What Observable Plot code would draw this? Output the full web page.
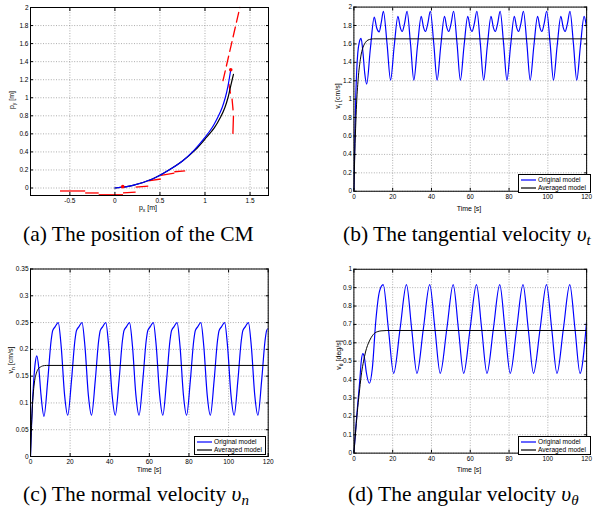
<!DOCTYPE html>
<html><head><meta charset="utf-8">
<script src="https://cdn.jsdelivr.net/npm/d3@7"></script>
<script src="https://cdn.jsdelivr.net/npm/@observablehq/plot@0.6"></script>
<style>
body{margin:0;width:595px;height:517px;overflow:hidden;background:#fff;position:relative;font-family:"Liberation Sans",Arial,sans-serif}
.panel{position:absolute}
.cap{position:absolute;font-family:"Liberation Serif","Times New Roman",serif;font-size:21.5px;line-height:22px;white-space:nowrap}
.cap sub{font-size:15px;vertical-align:-4px;line-height:0}
.lab{position:absolute;font-size:7px;line-height:7px;white-space:nowrap;transform:translate(-50%,-50%)}
.lab sub{font-size:5px;vertical-align:-2px;line-height:0}
.ylab{transform:translate(-50%,-50%) rotate(-90deg)}
.leg{position:absolute;border:1px solid #000;background:#fff;font-size:6.6px;line-height:8px;box-sizing:border-box;padding:1px 0 0 2px}
.leg div{display:flex;align-items:center;white-space:nowrap}
.leg svg{margin-right:2px}
</style>
</head><body>
<div id="pa" class="panel" style="left:0;top:0"></div>
<div id="pb" class="panel" style="left:300px;top:0"></div>
<div id="pc" class="panel" style="left:0;top:255px"></div>
<div id="pd" class="panel" style="left:300px;top:255px"></div>

<div class="lab" style="left:148px;top:207px">p<sub>x</sub> [m]</div>
<div class="lab ylab" style="left:11px;top:100px">p<sub>y</sub> [m]</div>
<div class="lab" style="left:469px;top:208px">Time [s]</div>
<div class="lab ylab" style="left:337px;top:96px">v<sub>t</sub> [cm/s]</div>
<div class="lab" style="left:149px;top:469px">Time [s]</div>
<div class="lab ylab" style="left:10px;top:360px">v<sub>n</sub> [cm/s]</div>
<div class="lab" style="left:469px;top:469px">Time [s]</div>
<div class="lab ylab" style="left:338px;top:355px">v<sub>θ</sub> [deg/s]</div>

<div class="leg" style="left:518px;top:174px;width:73px;height:19px"><div><svg width="15" height="4"><line x1="0" y1="2" x2="15" y2="2" stroke="#0000ff" stroke-width="1.2"/></svg>Original model</div><div><svg width="15" height="4"><line x1="0" y1="2" x2="15" y2="2" stroke="#000" stroke-width="1.2"/></svg>Averaged model</div></div>
<div class="leg" style="left:194px;top:436px;width:72px;height:19px"><div><svg width="15" height="4"><line x1="0" y1="2" x2="15" y2="2" stroke="#0000ff" stroke-width="1.2"/></svg>Original model</div><div><svg width="15" height="4"><line x1="0" y1="2" x2="15" y2="2" stroke="#000" stroke-width="1.2"/></svg>Averaged model</div></div>
<div class="leg" style="left:518px;top:436px;width:73px;height:19px"><div><svg width="15" height="4"><line x1="0" y1="2" x2="15" y2="2" stroke="#0000ff" stroke-width="1.2"/></svg>Original model</div><div><svg width="15" height="4"><line x1="0" y1="2" x2="15" y2="2" stroke="#000" stroke-width="1.2"/></svg>Averaged model</div></div>

<div class="cap" style="left:23px;top:223px">(a) The position of the CM</div>
<div class="cap" style="left:343px;top:223px">(b) The tangential velocity <i>υ</i><sub><i>t</i></sub></div>
<div class="cap" style="left:23px;top:483px">(c) The normal velocity <i>υ</i><sub><i>n</i></sub></div>
<div class="cap" style="left:348px;top:483px">(d) The angular velocity <i>υ</i><sub><i>θ</i></sub></div>

<script>
// ---------- tick labels ----------
const aXTicks = [-0.5, 0, 0.5, 1, 1.5];
const aYTicks = [0, 0.2, 0.4, 0.6, 0.8, 1, 1.2, 1.4, 1.6, 1.8, 2];
const timeTicks = [0, 20, 40, 60, 80, 100, 120];
const vtTicks = [0, 0.2, 0.4, 0.6, 0.8, 1, 1.2, 1.4, 1.6, 1.8, 2];
const vnTicks = [0, 0.05, 0.1, 0.15, 0.2, 0.25, 0.3, 0.35];
const vthTicks = [0, 0.1, 0.2, 0.3, 0.4, 0.5, 0.6, 0.7, 0.8, 0.9, 1];

// ---------- (a) position of the CM ----------
const origPx = [0, 0.2, 0.416, 0.6, 0.75, 0.88, 1.0, 1.08, 1.145, 1.19, 1.225, 1.255, 1.286];
const origPy = [0, 0.03, 0.1, 0.2, 0.3, 0.42, 0.56, 0.67, 0.79, 0.89, 1.0, 1.13, 1.31];
const avgPx = [0, 0.2, 0.416, 0.6, 0.75, 0.89, 1.015, 1.105, 1.175, 1.22, 1.255, 1.285, 1.316];
const avgPy = [0, 0.03, 0.1, 0.2, 0.3, 0.42, 0.56, 0.67, 0.79, 0.89, 1.0, 1.13, 1.26];
// red staircase segments (bottom)
const redX1 = [-0.61, -0.33, -0.18, 0.09, 0.23, 0.37, 0.51, 0.66];
const redY1 = [-0.033, -0.055, -0.075, -0.055, 0.01, 0.08, 0.14, 0.18];
const redX2 = [-0.33, -0.18, 0.09, 0.23, 0.37, 0.51, 0.66, 0.78];
const redY2 = [-0.033, -0.055, -0.075, -0.045, 0.02, 0.1, 0.165, 0.19];
// red dashes (right, lower)
const redRX1 = [1.265, 1.30, 1.316];
const redRY1 = [1.155, 0.99, 0.80];
const redRX2 = [1.283, 1.312, 1.31];
const redRY2 = [1.045, 0.86, 0.60];
// red dashed line (right, upper)
const redUpX = [1.20, 1.387];
const redUpY = [1.19, 2.0];
// red dots
const dotX = [0.087, 1.286];
const dotY = [0.015, 1.31];

// ---------- (b) tangential velocity ----------
const vtT = [0,0.5,1,1.5,2,2.8,3.7,4.7,5.6,6.6,8.5,10.5,11.8,13,14.1,15.2,17.1,18.9,
20.8,22.7,23.9,24.9,26.1,27.4,29.2,30.9,
32.8,34.7,35.9,36.9,38.1,39.4,41.2,42.9,
44.8,46.7,47.9,48.9,50.1,51.4,53.2,54.9,
56.8,58.7,59.9,60.9,62.1,63.4,65.2,66.9,
68.8,70.7,71.9,72.9,74.1,75.4,77.2,78.9,
80.8,82.7,83.9,84.9,86.1,87.4,89.2,90.9,
92.8,94.7,95.9,96.9,98.1,99.4,101.2,102.9,
104.8,106.7,107.9,108.9,110.1,111.4,113.2,114.9,
116.8,118.7,119.5,120];
const vtOrig = [0,0.6,1.05,1.33,1.5,1.62,1.66,1.5,1.28,1.164,1.55,1.89,1.77,1.73,1.83,1.955,1.6,1.207,
1.58,1.90,1.78,1.735,1.82,1.955,1.60,1.207,
1.58,1.90,1.78,1.735,1.82,1.955,1.60,1.207,
1.58,1.90,1.78,1.735,1.82,1.955,1.60,1.207,
1.58,1.90,1.78,1.735,1.82,1.955,1.60,1.207,
1.58,1.90,1.78,1.735,1.82,1.955,1.60,1.207,
1.58,1.90,1.78,1.735,1.82,1.955,1.60,1.207,
1.58,1.90,1.78,1.735,1.82,1.955,1.60,1.207,
1.58,1.90,1.78,1.735,1.82,1.955,1.60,1.207,
1.58,1.90,1.84,1.77];
const vtAvgT = [0,0.5,1,1.5,2,2.5,3,3.7,4.5,5.5,6.5,8,10,120];
const vtAvg = [0,0.43,0.75,1.0,1.16,1.29,1.38,1.48,1.55,1.6,1.63,1.648,1.655,1.655];

// ---------- (c) normal velocity ----------
const vnT = [0,0.5,1,1.6,2.3,3.2,4.2,5.3,6.8,
8.7,10.4,11.2,12.4,14.0,15.5,17.2,18.8,
20.7,22.4,23.2,24.4,26.0,27.5,29.2,30.8,
32.7,34.4,35.2,36.4,38.0,39.5,41.2,42.8,
44.7,46.4,47.2,48.4,50.0,51.5,53.2,54.8,
56.7,58.4,59.2,60.4,62.0,63.5,65.2,66.8,
68.7,70.4,71.2,72.4,74.0,75.5,77.2,78.8,
80.7,82.4,83.2,84.4,86.0,87.5,89.2,90.8,
92.7,94.4,95.2,96.4,98.0,99.5,101.2,102.8,
104.7,106.4,107.2,108.4,110.0,111.5,113.2,114.8,
116.7,118.4,119.2,120];
const vnOrig = [0,0.055,0.1,0.14,0.172,0.188,0.165,0.115,0.075,
0.142,0.216,0.235,0.242,0.250,0.205,0.115,0.077,
0.142,0.216,0.235,0.242,0.250,0.205,0.115,0.077,
0.142,0.216,0.235,0.242,0.250,0.205,0.115,0.077,
0.142,0.216,0.235,0.242,0.250,0.205,0.115,0.077,
0.142,0.216,0.235,0.242,0.250,0.205,0.115,0.077,
0.142,0.216,0.235,0.242,0.250,0.205,0.115,0.077,
0.142,0.216,0.235,0.242,0.250,0.205,0.115,0.077,
0.142,0.216,0.235,0.242,0.250,0.205,0.115,0.077,
0.142,0.216,0.235,0.242,0.250,0.205,0.115,0.077,
0.142,0.216,0.235,0.239];
const vnAvgT = [0,0.5,1,1.5,2,3,4,5,6,8,120];
const vnAvg = [0,0.058,0.097,0.122,0.139,0.156,0.164,0.167,0.169,0.17,0.17];

// ---------- (d) angular velocity ----------
const vthT = [0,1,2,3,3.8,4.6,5.4,6.4,8.0,9.5,11.3,13.2,
15.1,17.8,20.5,23.8,27.1,29.8,32.5,35.8,39.1,41.8,44.5,47.9,51.2,53.9,56.6,59.9,
63.2,65.9,68.6,71.9,75.2,77.9,80.6,83.9,87.2,89.9,92.6,96.0,99.3,102.0,104.7,108.0,
111.3,114.0,116.6,120];
const vthOrig = [0,0.14,0.27,0.39,0.5,0.541,0.52,0.44,0.38,0.46,0.72,0.88,
0.916,0.675,0.434,0.675,0.916,0.675,0.434,0.675,0.916,0.675,0.434,0.675,0.916,0.675,0.434,0.675,
0.916,0.675,0.434,0.675,0.916,0.675,0.434,0.675,0.916,0.675,0.434,0.675,0.916,0.675,0.434,0.675,
0.916,0.675,0.434,0.72];
const vthAvgT = [0,1,2,3,4,5,6,7,8,9,10,11,12,14,17,120];
const vthAvg = [0,0.13,0.25,0.35,0.44,0.5,0.55,0.585,0.61,0.63,0.645,0.655,0.66,0.665,0.667,0.667];

// ---------- helpers ----------
const fmt = d => String(+d.toFixed(3));
const zip = (xs, ys) => xs.map((x, i) => ({x, y: ys[i]}));
const segs = (x1s, y1s, x2s, y2s) => x1s.map((x1, i) => ({x1, y1: y1s[i], x2: x2s[i], y2: y2s[i]}));
const BLUE = "#0000ff";

function panel(id, {width, height, ml, mr, mt, mb, xdom, ydom, xticks, yticks, marks}) {
  const grid = {stroke: "#8a8a8a", strokeDasharray: "1,1.6", strokeWidth: 0.7};
  const p = Plot.plot({
    width, height, marginLeft: ml, marginRight: mr, marginTop: mt, marginBottom: mb,
    x: {domain: xdom}, y: {domain: ydom},
    style: {fontSize: "6.5px", fontFamily: "Liberation Sans, Arial, sans-serif", background: "transparent", overflow: "visible", color: "#000"},
    marks: [
      Plot.ruleX(xticks, {...grid}),
      Plot.ruleY(yticks, {...grid}),
      ...marks,
      Plot.frame({stroke: "#000", strokeWidth: 1}),
      Plot.axisX({ticks: xticks, tickFormat: fmt, tickSize: -3, tickPadding: 6, label: null}),
      Plot.axisY({ticks: yticks, tickFormat: fmt, tickSize: -3, tickPadding: 5, label: null}),
      Plot.axisX({anchor: "top", ticks: xticks, tickFormat: () => "", tickSize: -3, label: null}),
      Plot.axisY({anchor: "right", ticks: yticks, tickFormat: () => "", tickSize: -3, label: null})
    ]
  });
  document.getElementById(id).appendChild(p);
}

panel("pa", {
  width: 290, height: 215, ml: 30, mr: 22, mt: 7, mb: 20,
  xdom: [-0.937, 1.705], ydom: [-0.083, 2], xticks: aXTicks, yticks: aYTicks,
  marks: [
    Plot.link(segs(redX1, redY1, redX2, redY2), {x1: "x1", y1: "y1", x2: "x2", y2: "y2", stroke: "#ff0000", strokeWidth: 1.3}),
    Plot.link(segs(redRX1, redRY1, redRX2, redRY2), {x1: "x1", y1: "y1", x2: "x2", y2: "y2", stroke: "#ff0000", strokeWidth: 1.3}),
    Plot.line(zip(redUpX, redUpY), {x: "x", y: "y", stroke: "#ff0000", strokeWidth: 1.3, strokeDasharray: "10,5"}),
    Plot.line(zip(avgPx, avgPy), {x: "x", y: "y", stroke: "#000", strokeWidth: 1.2, curve: "catmull-rom"}),
    Plot.line(zip(origPx, origPy), {x: "x", y: "y", stroke: BLUE, strokeWidth: 1.2, curve: "catmull-rom"}),
    Plot.dot(zip(dotX, dotY), {x: "x", y: "y", r: 1.8, fill: "#ff0000", stroke: "none"})
  ]
});

panel("pb", {
  width: 300, height: 215, ml: 54.3, mr: 9, mt: 6.7, mb: 21,
  xdom: [0, 120], ydom: [0, 2], xticks: timeTicks, yticks: vtTicks,
  marks: [
    Plot.line(zip(vtT, vtOrig), {x: "x", y: "y", stroke: BLUE, strokeWidth: 1.2, curve: "monotone-x", clip: true}),
    Plot.line(zip(vtAvgT, vtAvg), {x: "x", y: "y", stroke: "#000", strokeWidth: 1, curve: "monotone-x", clip: true})
  ]
});

panel("pc", {
  width: 290, height: 215, ml: 30, mr: 22.3, mt: 13.5, mb: 14,
  xdom: [0, 120], ydom: [0, 0.35], xticks: timeTicks, yticks: vnTicks,
  marks: [
    Plot.line(zip(vnT, vnOrig), {x: "x", y: "y", stroke: BLUE, strokeWidth: 1.2, curve: "monotone-x", clip: true}),
    Plot.line(zip(vnAvgT, vnAvg), {x: "x", y: "y", stroke: "#000", strokeWidth: 1, curve: "monotone-x", clip: true})
  ]
});

panel("pd", {
  width: 300, height: 215, ml: 54.3, mr: 9, mt: 14, mb: 14,
  xdom: [0, 120], ydom: [0, 1], xticks: timeTicks, yticks: vthTicks,
  marks: [
    Plot.line(zip(vthT, vthOrig), {x: "x", y: "y", stroke: BLUE, strokeWidth: 1.2, curve: "monotone-x", clip: true}),
    Plot.line(zip(vthAvgT, vthAvg), {x: "x", y: "y", stroke: "#000", strokeWidth: 1, curve: "monotone-x", clip: true})
  ]
});
</script>
</body></html>
